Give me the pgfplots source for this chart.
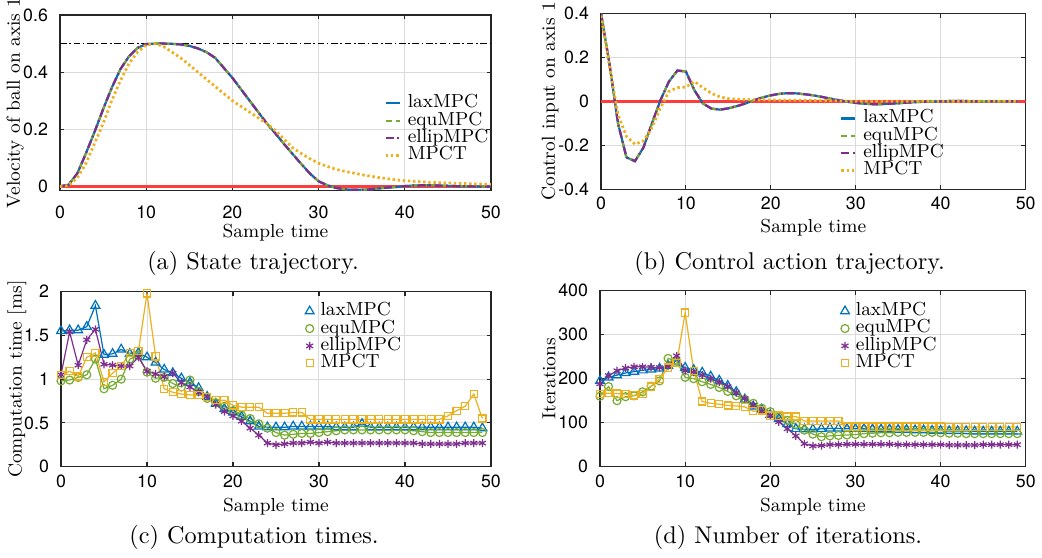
\documentclass[border=0pt]{standalone}
\usepackage{fontspec}
\usepackage{pgfplots}
\pgfplotsset{compat=1.18}
\usepackage{pgfplotstable}
\newfontfamily\ticksf{TeX Gyre Heros}

\definecolor{cblue}{RGB}{0,114,189}
\definecolor{cgreen}{RGB}{119,172,48}
\definecolor{cpurple}{RGB}{126,47,142}
\definecolor{corange}{RGB}{237,177,32}
\definecolor{cred}{RGB}{255,60,60}

% velocity of ball (a)
\pgfplotstableread{
t lax mpct
0 0 0
1 0.006 0.003
2 0.045 0.03
3 0.115 0.08
4 0.19 0.15
5 0.27 0.22
6 0.345 0.30
7 0.41 0.37
8 0.455 0.43
9 0.485 0.47
10 0.498 0.495
11 0.5 0.5
12 0.5 0.49
13 0.499 0.47
14 0.497 0.45
15 0.492 0.425
16 0.483 0.40
17 0.47 0.375
18 0.45 0.35
19 0.415 0.325
20 0.38 0.30
21 0.34 0.28
22 0.30 0.26
23 0.26 0.24
24 0.22 0.22
25 0.185 0.195
26 0.148 0.165
27 0.113 0.135
28 0.078 0.115
29 0.045 0.097
30 0.018 0.081
31 0.004 0.07
32 -0.005 0.06
33 -0.01 0.053
34 -0.012 0.047
35 -0.012 0.041
36 -0.01 0.036
37 -0.007 0.031
38 -0.004 0.027
39 -0.002 0.023
40 0.001 0.02
41 0.003 0.018
42 0.004 0.016
43 0.004 0.014
44 0.003 0.013
45 0.002 0.012
46 0.001 0.011
47 0.001 0.01
48 0 0.009
49 0 0.008
50 0 0.008
}\velo

% control input (b)
\pgfplotstableread{
t lax mpct
0 0.4 0.39
1 0.17 0.16
2 -0.1 -0.06
3 -0.255 -0.16
4 -0.272 -0.195
5 -0.21 -0.18
6 -0.1 -0.12
7 0.005 -0.03
8 0.09 0.045
9 0.14 0.062
10 0.135 0.065
11 0.05 0.09
12 -0.01 0.062
13 -0.033 0.036
14 -0.038 0.02
15 -0.032 0.012
16 -0.022 0.009
17 -0.01 0.008
18 0.005 0.007
19 0.017 0.006
20 0.027 0.006
21 0.034 0.005
22 0.037 0.005
23 0.036 0.005
24 0.032 0.004
25 0.027 0.004
26 0.02 0.003
27 0.012 0.003
28 0.005 0.002
29 -0.002 0.001
30 -0.007 0
31 -0.011 0
32 -0.013 0
33 -0.013 0
34 -0.011 0
35 -0.009 0
36 -0.006 0
37 -0.004 0
38 -0.002 0
39 -0.001 0
40 0 0
41 0.001 0
42 0.001 0
43 0.001 0
44 0 0
45 0 0
46 0 0
47 0 0
48 0 0
49 0 0
}\ctrl

% computation time [ms] (c)
\pgfplotstableread{
t lax equ ellip mpct
0 1.55 0.98 1.05 1.05
1 1.56 0.99 1.54 1.09
2 1.56 1.02 1.16 1.03
3 1.60 1.05 1.45 1.25
4 1.84 1.23 1.57 1.30
5 1.28 0.89 1.17 0.97
6 1.29 0.93 1.16 1.07
7 1.34 1.00 1.15 1.15
8 1.29 1.23 1.15 1.30
9 1.30 1.27 1.25 1.32
10 1.25 1.08 1.09 1.98
11 1.19 1.01 1.06 1.26
12 1.11 1.02 1.03 0.89
13 1.07 0.95 1.07 0.85
14 1.01 0.91 0.96 0.83
15 0.96 0.99 0.91 0.82
16 0.90 0.86 0.85 0.82
17 0.80 0.78 0.80 0.80
18 0.72 0.73 0.71 0.76
19 0.66 0.69 0.63 0.76
20 0.62 0.64 0.58 0.70
21 0.57 0.59 0.52 0.68
22 0.52 0.55 0.44 0.68
23 0.46 0.49 0.36 0.68
24 0.45 0.44 0.27 0.61
25 0.45 0.39 0.25 0.61
26 0.45 0.36 0.26 0.61
27 0.46 0.37 0.27 0.62
28 0.46 0.38 0.27 0.62
29 0.46 0.38 0.28 0.54
30 0.46 0.39 0.27 0.54
31 0.46 0.40 0.28 0.54
32 0.45 0.41 0.27 0.54
33 0.45 0.42 0.27 0.54
34 0.45 0.42 0.27 0.54
35 0.49 0.42 0.27 0.54
36 0.45 0.42 0.27 0.54
37 0.45 0.42 0.27 0.54
38 0.45 0.42 0.27 0.54
39 0.45 0.42 0.27 0.54
40 0.45 0.42 0.27 0.54
41 0.45 0.41 0.27 0.54
42 0.45 0.40 0.26 0.54
43 0.45 0.39 0.26 0.54
44 0.45 0.39 0.26 0.54
45 0.45 0.39 0.26 0.58
46 0.45 0.39 0.26 0.64
47 0.45 0.39 0.27 0.69
48 0.45 0.39 0.27 0.83
49 0.44 0.39 0.27 0.55
}\ctime

% iterations (d)
\pgfplotstableread{
t lax equ ellip mpct
0 195 160 188 165
1 203 182 207 167
2 208 150 218 166
3 213 159 224 165
4 216 161 227 162
5 219 170 227 165
6 221 183 226 182
7 223 195 225 199
8 229 246 228 225
9 234 240 252 235
10 225 203 218 350
11 220 200 215 218
12 214 193 208 148
13 205 187 200 144
14 196 180 192 142
15 184 171 182 139
16 170 161 168 138
17 153 153 155 136
18 137 144 140 126
19 130 133 126 128
20 118 125 116 116
21 109 113 102 116
22 97 105 86 114
23 86 96 70 114
24 85 83 52 104
25 85 74 47 104
26 86 68 48 104
27 87 70 50 104
28 87 71 50 104
29 86 72 51 91
30 86 73 51 91
31 86 75 51 91
32 85 76 51 91
33 85 77 51 91
34 85 77 51 91
35 84 78 50 91
36 84 78 50 91
37 83 78 50 91
38 83 78 50 91
39 82 78 50 91
40 82 77 50 91
41 81 76 49 90
42 81 76 49 90
43 81 75 49 90
44 80 75 49 90
45 80 75 50 90
46 80 75 50 90
47 80 75 50 90
48 80 75 50 90
49 80 75 50 90
}\iters

\pgfplotsset{
  panel/.style={
    scale only axis, xmin=0, xmax=50, xtick={0,10,...,50},
    grid=major, major grid style={black!14, line width=0.45pt},
    axis line style={black!85, line width=0.5pt},
    tick align=inside, tick pos=both, major tick length=2pt,
    tick style={black!85, line width=0.5pt},
    tick label style={font=\ticksf\fontsize{8}{9}\selectfont},
    yticklabel style={xshift=-1.9pt},
    /pgf/number format/assume math mode=true,
    label style={font=\fontsize{8.5}{10}\selectfont, inner sep=0pt},
    xlabel={Sample time},
    ylabel style={anchor=center},
    legend cell align=left,
    legend style={draw=none, fill=none, anchor=north west,
      font=\fontsize{8.5}{10}\selectfont, inner sep=0pt, row sep=0pt,
      nodes={inner sep=0.3pt, text height=5.6pt, text depth=1.6pt},
      /tikz/every odd column/.append style={column sep=2.6pt}},
  },
  xlab/.style={every axis x label/.style={at={(axis description cs:0.5,#1)}, anchor=center,
    font=\fontsize{8.5}{10}\selectfont, inner sep=0pt}},
  linelegend/.style={legend image code/.code={\draw[##1] (0pt,0pt) -- (6.3pt,0pt);}},
  marklegend/.style={legend image code/.code={\draw[##1] plot coordinates {(1pt,0pt)};}},
  lax/.style={cblue, line width=1pt},
  equ/.style={cgreen, line width=1pt, dash pattern=on 2.7pt off 1.8pt},
  ellip/.style={cpurple, line width=1pt, dash pattern=on 3.6pt off 1.6pt on 0.8pt off 1.6pt},
  mpct/.style={corange, line width=1.25pt, dash pattern=on 1.1pt off 1.2pt},
  mk/.style={line width=0.55pt, mark options={solid, line width=0.55pt}},
}

\begin{document}
\begin{tikzpicture}
\path[use as bounding box] (0pt,0pt) rectangle (468.9pt,-251.1pt);

% (a) state trajectory
\begin{axis}[panel, linelegend, at={(27pt,-6.75pt)}, anchor=north west,
  width=193.95pt, height=79.07pt,
  ymin=-0.015, ymax=0.6, ytick={0,0.2,0.4,0.6},
  xticklabel style={yshift=-3.2pt},
  ylabel={Velocity of ball on axis 1},
  ylabel style={at={(axis description cs:-0.104,0.5)}},
  xlab=-0.24,
  legend style={at={(axis description cs:0.752,0.549)}}]
\addplot[cred, line width=1.1pt, forget plot] coordinates {(0,0) (50,0)};
\addplot[black, line width=0.6pt, dash pattern=on 3pt off 1.2pt on 0.7pt off 1.2pt, forget plot] coordinates {(0,0.5) (50,0.5)};
\addplot[lax] table[x=t, y=lax] {\velo};
\addplot[equ] table[x=t, y=lax] {\velo};
\addplot[ellip] table[x=t, y=lax] {\velo};
\addplot[mpct] table[x=t, y=mpct] {\velo};
\legend{laxMPC, equMPC, ellipMPC, MPCT}
\end{axis}

% (b) control action trajectory
\begin{axis}[panel, linelegend, at={(270.45pt,-5.985pt)}, anchor=north west,
  width=191.1pt, height=79.2pt,
  ymin=-0.4, ymax=0.4, ytick={-0.4,-0.2,0,0.2,0.4},
  ylabel={Control input on axis 1},
  ylabel style={at={(axis description cs:-0.12,0.5)}},
  xlab=-0.22,
  legend style={at={(axis description cs:0.562,0.454)}}]
\addplot[cred, line width=1.1pt, forget plot] coordinates {(0,0) (50,0)};
\addplot[lax] table[x=t, y=lax] {\ctrl};
\addplot[equ] table[x=t, y=lax] {\ctrl};
\addplot[ellip] table[x=t, y=lax] {\ctrl};
\addplot[mpct] table[x=t, y=mpct] {\ctrl};
\legend{laxMPC, equMPC, ellipMPC, MPCT}
\end{axis}

% (c) computation times
\begin{axis}[panel, marklegend, at={(27.45pt,-131.25pt)}, anchor=north west,
  width=193.5pt, height=78.75pt,
  ymin=0, ymax=2, ytick={0,0.5,1,1.5,2},
  ylabel={Computation time [ms]},
  ylabel style={at={(axis description cs:-0.1023,0.5)}},
  xlab=-0.228,
  legend style={at={(axis description cs:0.567,0.94)}}]
\addplot[cblue, mk, mark=triangle, mark size=2.3pt] table[x=t, y=lax] {\ctime};
\addplot[cgreen, mk, mark=o, mark size=1.8pt] table[x=t, y=equ] {\ctime};
\addplot[cpurple, mk, mark=asterisk, mark size=1.8pt] table[x=t, y=ellip] {\ctime};
\addplot[corange, mk, mark=square, mark size=1.6pt] table[x=t, y=mpct] {\ctime};
\legend{laxMPC, equMPC, ellipMPC, MPCT}
\end{axis}

% (d) number of iterations
\begin{axis}[panel, marklegend, at={(270pt,-130.8pt)}, anchor=north west,
  width=191.6pt, height=79.2pt,
  ymin=0, ymax=400, ytick={0,100,200,300,400},
  ylabel={Iterations},
  ylabel style={at={(axis description cs:-0.1197,0.5)}},
  xlab=-0.23,
  legend style={at={(axis description cs:0.564,0.935)}}]
\addplot[cblue, mk, mark=triangle, mark size=2.3pt] table[x=t, y=lax] {\iters};
\addplot[cgreen, mk, mark=o, mark size=1.8pt] table[x=t, y=equ] {\iters};
\addplot[cpurple, mk, mark=asterisk, mark size=1.8pt] table[x=t, y=ellip] {\iters};
\addplot[corange, mk, mark=square, mark size=1.6pt] table[x=t, y=mpct] {\iters};
\legend{laxMPC, equMPC, ellipMPC, MPCT}
\end{axis}

\begin{scope}[every node/.style={font=\fontsize{10.9}{13}\selectfont, inner sep=0pt}]
\node at (113.85pt,-118.35pt) {(a) State trajectory.};
\node at (355.3pt,-118.35pt) {(b) Control action trajectory.};
\node at (114.3pt,-241.65pt) {(c) Computation times.};
\node at (354.6pt,-241.65pt) {(d) Number of iterations.};
\end{scope}
\end{tikzpicture}
\end{document}
